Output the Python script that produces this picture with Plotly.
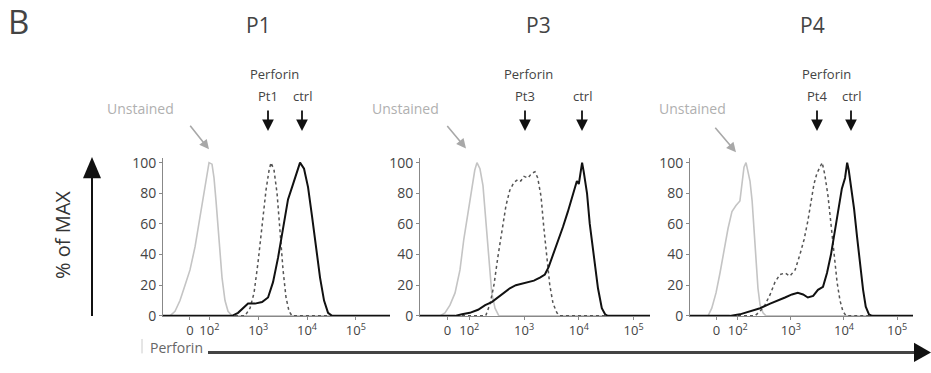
import plotly.graph_objects as go

W, H = 931, 373

# ---------------- data (x in display decades: 0 -> 1.6, 10^2 -> 2, 10^3 -> 3 ...) -------------
panel_titles = ["P1", "P3", "P4"]
patient_labels = ["Pt1", "Pt3", "Pt4"]
tick_vals = [1.6, 2, 3, 4, 5]
tick_text = ["0", "10<sup>2</sup>", "10<sup>3</sup>", "10<sup>4</sup>", "10<sup>5</sup>"]
y_ticks = [0, 20, 40, 60, 80, 100]

# P1
p1_unst_x = [1.05, 1.193, 1.296, 1.398, 1.501, 1.603, 1.706, 1.808, 1.89, 1.952, 1.993, 2.054, 2.095, 2.136, 2.198, 2.259, 2.32, 2.382, 2.464, 5.7]
p1_unst_y = [0, 0, 3, 10, 20, 30, 45, 65, 82, 95, 100, 99, 90, 75, 50, 25, 10, 3, 0, 0]
p1_pt_x = [1.05, 2.73, 2.833, 2.915, 2.997, 3.079, 3.16, 3.222, 3.263, 3.325, 3.386, 3.448, 3.509, 3.57, 3.632, 3.693, 5.7]
p1_pt_y = [0, 0, 5, 15, 35, 60, 82, 95, 100, 95, 80, 55, 30, 12, 3, 0, 0]
p1_ctrl_x = [1.05, 2.464, 2.587, 2.689, 2.792, 2.935, 3.079, 3.202, 3.304, 3.407, 3.509, 3.611, 3.714, 3.796, 3.857, 3.939, 4.021, 4.103, 4.185, 4.267, 4.349, 4.431, 4.513, 5.7]
p1_ctrl_y = [0, 0, 2, 5, 8, 8, 9, 12, 22, 38, 58, 76, 86, 95, 100, 96, 84, 65, 45, 25, 10, 2, 0, 0]

# P3
p3_unst_x = [1.10, 1.465, 1.556, 1.647, 1.74, 1.83, 1.90, 1.976, 2.05, 2.10, 2.14, 2.195, 2.25, 2.30, 2.36, 2.41, 2.47, 2.54, 5.3]
p3_unst_y = [0, 0, 2, 7, 15, 30, 50, 68, 85, 95, 100, 96, 85, 62, 35, 15, 5, 0, 0]
p3_pt_x = [1.10, 2.30, 2.38, 2.45, 2.52, 2.60, 2.67, 2.74, 2.815, 2.89, 2.94, 3.00, 3.07, 3.14, 3.20, 3.25, 3.31, 3.36, 3.42, 3.47, 3.53, 3.60, 3.655, 5.3]
p3_pt_y = [0, 0, 8, 20, 38, 57, 72, 82, 87, 89, 88, 91, 90, 93, 94, 90, 78, 58, 38, 20, 8, 2, 0, 0]
p3_ctrl_x = [1.10, 1.74, 1.866, 2.01, 2.16, 2.29, 2.41, 2.52, 2.63, 2.74, 2.85, 2.96, 3.07, 3.18, 3.29, 3.38, 3.45, 3.53, 3.62, 3.71, 3.80, 3.87, 3.93, 3.965, 4.00, 4.04, 4.06, 4.09, 4.15, 4.20, 4.275, 4.35, 4.42, 4.48, 4.53, 5.3]
p3_ctrl_y = [0, 0, 1, 2, 4, 7, 9, 12, 15, 18, 20, 21, 22, 23, 25, 27, 32, 40, 48, 58, 68, 76, 83, 88, 86, 96, 100, 94, 80, 60, 38, 18, 5, 1, 0, 0]

# P4
p4_unst_x = [1.10, 1.44, 1.51, 1.59, 1.665, 1.74, 1.816, 1.89, 1.966, 2.04, 2.08, 2.117, 2.155, 2.19, 2.23, 2.27, 2.305, 2.34, 2.38, 2.42, 2.475, 2.53, 5.3]
p4_unst_y = [0, 0, 5, 15, 28, 42, 57, 68, 72, 75, 85, 97, 100, 95, 88, 75, 55, 35, 18, 7, 2, 0, 0]
p4_pt_x = [1.10, 2.32, 2.42, 2.51, 2.61, 2.70, 2.795, 2.89, 2.98, 3.08, 3.17, 3.25, 3.32, 3.38, 3.435, 3.49, 3.55, 3.59, 3.64, 3.70, 3.755, 3.81, 3.87, 3.925, 3.98, 4.04, 5.3]
p4_pt_y = [0, 0, 3, 7, 14, 22, 27, 28, 26, 30, 40, 50, 62, 75, 86, 93, 97, 100, 92, 78, 60, 40, 22, 10, 3, 0, 0]
p4_ctrl_x = [1.10, 1.85, 2.04, 2.23, 2.42, 2.61, 2.76, 2.89, 3.02, 3.13, 3.23, 3.32, 3.42, 3.51, 3.605, 3.68, 3.755, 3.83, 3.91, 3.96, 4.02, 4.06, 4.09, 4.13, 4.19, 4.245, 4.30, 4.36, 4.41, 4.47, 4.53, 5.3]
p4_ctrl_y = [0, 0, 1, 3, 5, 8, 10, 12, 14, 15, 14, 12, 13, 17, 19, 28, 40, 55, 72, 83, 90, 100, 95, 86, 70, 52, 33, 17, 6, 1, 0, 0]

panels = [
    (p1_unst_x, p1_unst_y, p1_pt_x, p1_pt_y, p1_ctrl_x, p1_ctrl_y),
    (p3_unst_x, p3_unst_y, p3_pt_x, p3_pt_y, p3_ctrl_x, p3_ctrl_y),
    (p4_unst_x, p4_unst_y, p4_pt_x, p4_pt_y, p4_ctrl_x, p4_ctrl_y),
]
x_ranges = [[1.05, 5.7], [1.1, 5.3], [1.1, 5.3]]

# ---------------- layout helpers ----------------
def px(x):
    return x / W

def py(y):
    return 1 - y / H

x_domains = [(163, 390), (420, 650), (690, 913)]
y_dom = [py(323), py(159)]

FONT = "Open Sans"
TXT = "#444444"
LIGHT = "#b0b0b0"

fig = go.Figure()

for i, (ux, uy, ptx, pty, cx, cy) in enumerate(panels):
    xa = "x" if i == 0 else f"x{i+1}"
    ya = "y" if i == 0 else f"y{i+1}"
    fig.add_trace(go.Scatter(x=ux, y=uy, mode="lines", xaxis=xa, yaxis=ya,
                             line=dict(color="#c4c4c4", width=1.6), showlegend=False))
    fig.add_trace(go.Scatter(x=ptx, y=pty, mode="lines", xaxis=xa, yaxis=ya,
                             line=dict(color="#555555", width=1.5, dash="dot"), showlegend=False))
    fig.add_trace(go.Scatter(x=cx, y=cy, mode="lines", xaxis=xa, yaxis=ya,
                             line=dict(color="#111111", width=2), showlegend=False))

axis_common_x = dict(tickvals=tick_vals, ticktext=tick_text,
                     showline=True, linecolor="#888888", linewidth=1, ticks="outside",
                     ticklen=3, tickcolor="#888888", showgrid=False, zeroline=False,
                     tickfont=dict(family=FONT, size=13, color=TXT), fixedrange=True)
axis_common_y = dict(range=[0, 103], tickvals=y_ticks, showline=True, linecolor="#888888",
                     linewidth=1, ticks="outside", ticklen=3, tickcolor="#888888",
                     showgrid=False, zeroline=False, domain=y_dom,
                     tickfont=dict(family=FONT, size=14, color=TXT), fixedrange=True)

layout = dict(width=W, height=H, margin=dict(l=0, r=0, t=0, b=0),
              paper_bgcolor="white", plot_bgcolor="white", showlegend=False)
for i, (a, b) in enumerate(x_domains):
    xk = "xaxis" if i == 0 else f"xaxis{i+1}"
    yk = "yaxis" if i == 0 else f"yaxis{i+1}"
    ya = "y" if i == 0 else f"y{i+1}"
    xa = "x" if i == 0 else f"x{i+1}"
    layout[xk] = dict(axis_common_x, range=x_ranges[i], domain=[px(a), px(b)], anchor=ya)
    layout[yk] = dict(axis_common_y, anchor=xa)
fig.update_layout(**layout)

ann = []
shapes = []

# panel letter
ann.append(dict(x=px(6), y=py(17), xref="paper", yref="paper", text="B", showarrow=False,
                xanchor="left", yanchor="middle", font=dict(family=FONT, size=33, color=TXT)))

# panel titles
for t, x in zip(panel_titles, [258, 538, 812]):
    ann.append(dict(x=px(x), y=py(21), xref="paper", yref="paper", text=t, showarrow=False,
                    xanchor="center", yanchor="middle", font=dict(family=FONT, size=21, color=TXT)))

# Perforin labels
perf_centers = [274, 528, 826]
pt_x = [268, 525, 817]
ctrl_x = [302, 582, 851]
for i in range(3):
    ann.append(dict(x=px(perf_centers[i]), y=py(72), xref="paper", yref="paper", text="Perforin",
                    showarrow=False, xanchor="center", yanchor="middle",
                    font=dict(family=FONT, size=13, color=TXT)))
    ann.append(dict(x=px(pt_x[i]), y=py(95), xref="paper", yref="paper", text=patient_labels[i],
                    showarrow=False, xanchor="center", yanchor="middle",
                    font=dict(family=FONT, size=13, color=TXT)))
    ann.append(dict(x=px(ctrl_x[i]), y=py(95), xref="paper", yref="paper", text="ctrl",
                    showarrow=False, xanchor="center", yanchor="middle",
                    font=dict(family=FONT, size=13, color=TXT)))
    for ax_ in (pt_x[i], ctrl_x[i]):
        ann.append(dict(x=px(ax_), y=py(131), xref="paper", yref="paper", text="",
                        showarrow=True, axref="pixel", ayref="pixel", ax=0, ay=-22,
                        arrowhead=2, arrowsize=1.3, arrowwidth=1.8, arrowcolor="#111111"))

# Unstained labels
unst_txt = [140, 405, 692]
unst_arrow = [((189, 125), (209, 150)), ((446, 125), (466, 149)), ((714, 127), (736, 153))]
for i in range(3):
    ann.append(dict(x=px(unst_txt[i]), y=py(108), xref="paper", yref="paper", text="Unstained",
                    showarrow=False, xanchor="center", yanchor="middle",
                    font=dict(family=FONT, size=14, color=LIGHT)))
    (x0, y0), (x1, y1) = unst_arrow[i]
    ann.append(dict(x=px(x1), y=py(y1), xref="paper", yref="paper", text="", showarrow=True,
                    axref="pixel", ayref="pixel", ax=x0 - x1, ay=y0 - y1,
                    arrowhead=2, arrowsize=1.2, arrowwidth=1.6, arrowcolor="#a8a8a8"))

# % of MAX
ann.append(dict(x=px(62), y=py(239), xref="paper", yref="paper", text="% of MAX", textangle=-90,
                showarrow=False, xanchor="center", yanchor="middle",
                font=dict(family=FONT, size=20, color="#333333")))
# bottom Perforin
ann.append(dict(x=px(176), y=py(356), xref="paper", yref="paper", text="Perforin", showarrow=False,
                xanchor="center", yanchor="middle", font=dict(family=FONT, size=14, color="#666666")))

# left vertical arrow
shapes.append(dict(type="line", xref="paper", yref="paper", x0=px(92), x1=px(92), y0=py(323), y1=py(175),
                   line=dict(color="#111111", width=2)))
shapes.append(dict(type="path", xref="paper", yref="paper",
                   path=f"M {px(83)} {py(180)} L {px(101)} {py(180)} L {px(92)} {py(158)} Z",
                   fillcolor="#111111", line=dict(width=0)))
# small faint mark left of the bottom label
shapes.append(dict(type="line", xref="paper", yref="paper", x0=px(142), x1=px(142), y0=py(347), y1=py(362),
                   line=dict(color="#cccccc", width=1)))
# bottom horizontal arrow
shapes.append(dict(type="line", xref="paper", yref="paper", x0=px(208), x1=px(918), y0=py(361), y1=py(361),
                   line=dict(color="#444444", width=3)))
shapes.append(dict(type="path", xref="paper", yref="paper",
                   path=f"M {px(914)} {py(351)} L {px(914)} {py(371)} L {px(931)} {py(361)} Z",
                   fillcolor="#111111", line=dict(width=0)))

fig.update_layout(annotations=ann, shapes=shapes)
fig.write_html("out.html", config={"displayModeBar": False},
               post_script="document.body.style.margin='0';document.body.style.overflow='hidden';")
